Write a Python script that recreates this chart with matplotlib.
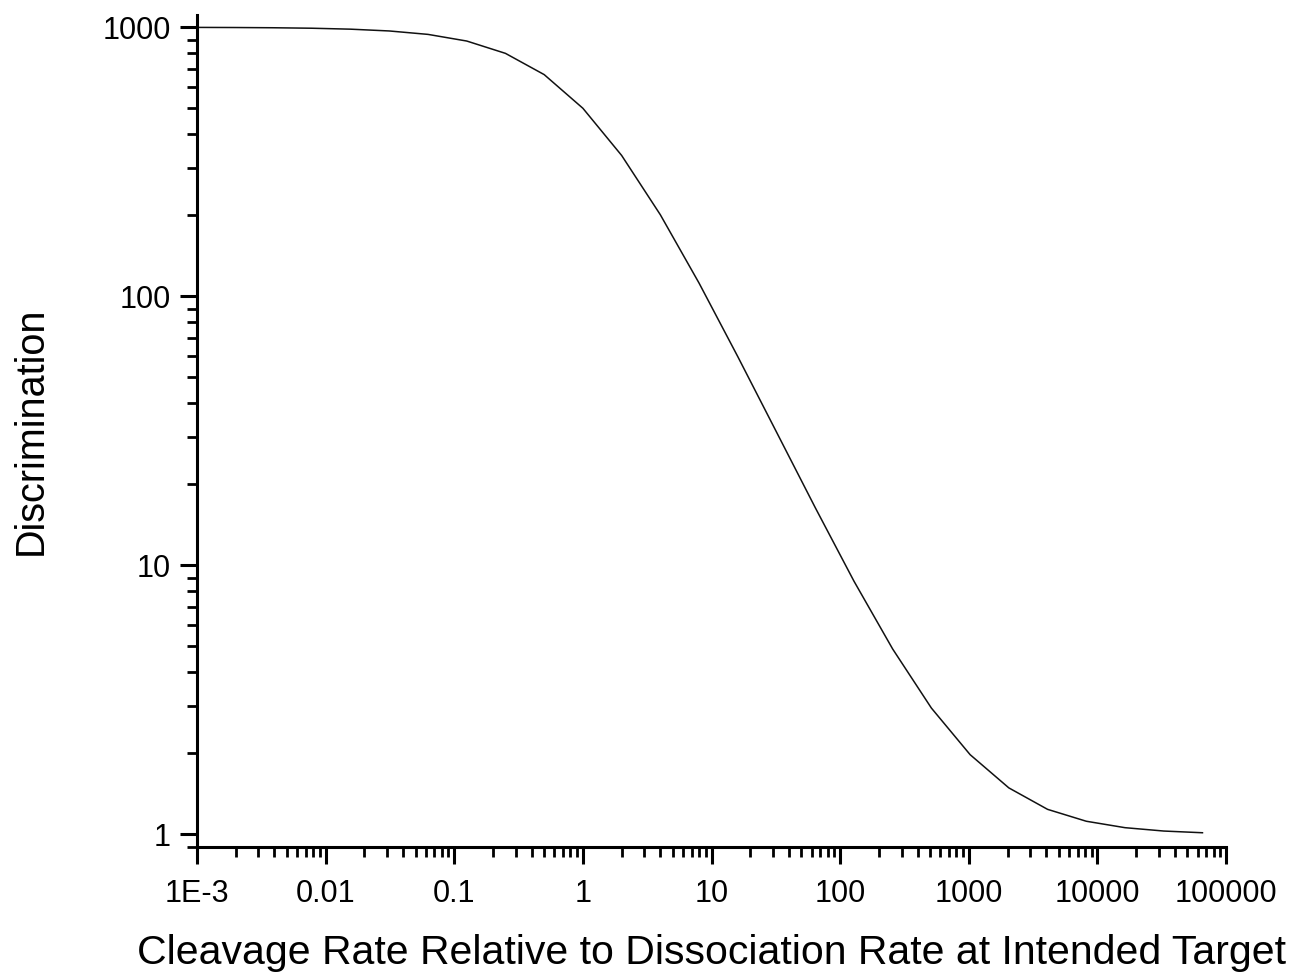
import numpy as np
import matplotlib.pyplot as plt
from matplotlib.ticker import LogLocator, FixedLocator, FixedFormatter, NullFormatter

plt.rcParams['font.family'] = ['Liberation Sans', 'DejaVu Sans']

# cleavage rate relative to dissociation rate (doubling steps) and discrimination
rate = [0.000977, 0.00195, 0.0039, 0.0078, 0.0156, 0.03125, 0.0625, 0.125,
        0.25, 0.5, 1, 2, 4, 8, 16, 32, 64, 128, 256, 512, 1024, 2048,
        4096, 8192, 16384, 32768, 65536]
discrimination = [999, 998, 996, 992, 984, 969, 941, 889, 800, 667, 500,
                  334, 201, 112, 59.7, 31.3, 16.4, 8.74, 4.89, 2.95, 1.98,
                  1.49, 1.24, 1.12, 1.06, 1.03, 1.015]

xticks = [1e-3, 1e-2, 1e-1, 1, 10, 100, 1000, 10000, 100000]
xticklabels = ['1E-3', '0.01', '0.1', '1', '10', '100', '1000', '10000', '100000']
yticks = [1, 10, 100, 1000]
yticklabels = ['1', '10', '100', '1000']

fig = plt.figure(figsize=(12.91, 9.73), dpi=100)
ax = fig.add_axes([0.1526, 0.1297, 0.7971, 0.8549])

ax.plot(rate, discrimination, color='#111111', lw=1.1)

ax.set_xscale('log')
ax.set_yscale('log')
ax.set_xlim(1e-3, 1e5)
ax.set_ylim(0.90, 1111)

ax.xaxis.set_major_locator(FixedLocator(xticks))
ax.xaxis.set_major_formatter(FixedFormatter(xticklabels))
ax.yaxis.set_major_locator(FixedLocator(yticks))
ax.yaxis.set_major_formatter(FixedFormatter(yticklabels))
ax.xaxis.set_minor_locator(LogLocator(base=10, subs=np.arange(2, 10), numticks=20))
ax.yaxis.set_minor_locator(LogLocator(base=10, subs=np.arange(2, 10), numticks=20))
ax.xaxis.set_minor_formatter(NullFormatter())
ax.yaxis.set_minor_formatter(NullFormatter())

for side in ['top', 'right']:
    ax.spines[side].set_visible(False)
for side in ['left', 'bottom']:
    ax.spines[side].set_linewidth(2.2)

ax.tick_params(which='major', direction='out', length=12, width=2.2,
               labelsize=22, pad=7)
ax.tick_params(which='minor', direction='out', length=7.5, width=2.0)
ax.tick_params(axis='x', which='major', pad=11)

ax.set_xlabel('Cleavage Rate Relative to Dissociation Rate at Intended Target',
              fontsize=29.5, labelpad=18)
ax.set_ylabel('Discrimination', fontsize=28.5, labelpad=38)

fig.savefig('out.png', dpi=100)
